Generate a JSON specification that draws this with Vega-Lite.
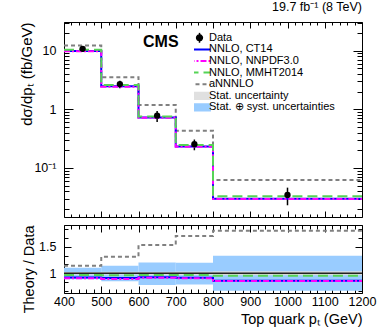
{
  "$schema": "https://vega.github.io/schema/vega-lite/v6.json",
  "padding": {"left": 18, "top": 0, "right": 5, "bottom": 5},
  "config": {
    "font": "Liberation Sans",
    "view": {"stroke": "black", "strokeWidth": 1},
    "axis": {"domain": false, "grid": false, "tickColor": "black", "tickWidth": 1, "labelColor": "black", "titleColor": "black", "labelFont": "Liberation Sans", "titleFont": "Liberation Sans", "labelFontSize": 12.5, "titleFontSize": 14.5, "titleFontWeight": "normal", "labelFlush": false, "labelOverlap": false},
    "title": {"font": "Liberation Sans", "color": "black"}
  },
  "datasets": {
    "meas": [
      {"pt": 450, "val": 10.8, "lo": 9.6, "hi": 11.9},
      {"pt": 550, "val": 2.7, "lo": 2.3, "hi": 3.08},
      {"pt": 650, "val": 0.78, "lo": 0.61, "hi": 0.94},
      {"pt": 750, "val": 0.254, "lo": 0.2, "hi": 0.305},
      {"pt": 1000, "val": 0.0345, "lo": 0.023, "hi": 0.046}
    ],
    "theory": [
      {"series": "aNNNLO", "x": 400, "y": 12.3},
      {"series": "aNNNLO", "x": 500, "y": 3.54},
      {"series": "aNNNLO", "x": 600, "y": 1.19},
      {"series": "aNNNLO", "x": 700, "y": 0.432},
      {"series": "aNNNLO", "x": 800, "y": 0.062},
      {"series": "aNNNLO", "x": 1200, "y": 0.062},
      {"series": "NNLO, CT14", "x": 400, "y": 9.95},
      {"series": "NNLO, CT14", "x": 500, "y": 2.47},
      {"series": "NNLO, CT14", "x": 600, "y": 0.725},
      {"series": "NNLO, CT14", "x": 700, "y": 0.232},
      {"series": "NNLO, CT14", "x": 800, "y": 0.0297},
      {"series": "NNLO, CT14", "x": 1200, "y": 0.0297},
      {"series": "NNLO, NNPDF3.0", "x": 400, "y": 9.8},
      {"series": "NNLO, NNPDF3.0", "x": 500, "y": 2.42},
      {"series": "NNLO, NNPDF3.0", "x": 600, "y": 0.715},
      {"series": "NNLO, NNPDF3.0", "x": 700, "y": 0.23},
      {"series": "NNLO, NNPDF3.0", "x": 800, "y": 0.0295},
      {"series": "NNLO, NNPDF3.0", "x": 1200, "y": 0.0295},
      {"series": "NNLO, MMHT2014", "x": 400, "y": 10.45},
      {"series": "NNLO, MMHT2014", "x": 500, "y": 2.61},
      {"series": "NNLO, MMHT2014", "x": 600, "y": 0.755},
      {"series": "NNLO, MMHT2014", "x": 700, "y": 0.246},
      {"series": "NNLO, MMHT2014", "x": 800, "y": 0.0328},
      {"series": "NNLO, MMHT2014", "x": 1200, "y": 0.0328}
    ],
    "ratio": [
      {"series": "aNNNLO", "x": 400, "r": 1.14},
      {"series": "aNNNLO", "x": 500, "r": 1.31},
      {"series": "aNNNLO", "x": 600, "r": 1.53},
      {"series": "aNNNLO", "x": 700, "r": 1.7},
      {"series": "aNNNLO", "x": 800, "r": 1.8},
      {"series": "aNNNLO", "x": 1200, "r": 1.8},
      {"series": "NNLO, CT14", "x": 400, "r": 0.922},
      {"series": "NNLO, CT14", "x": 500, "r": 0.912},
      {"series": "NNLO, CT14", "x": 600, "r": 0.928},
      {"series": "NNLO, CT14", "x": 700, "r": 0.915},
      {"series": "NNLO, CT14", "x": 800, "r": 0.862},
      {"series": "NNLO, CT14", "x": 1200, "r": 0.862},
      {"series": "NNLO, NNPDF3.0", "x": 400, "r": 0.908},
      {"series": "NNLO, NNPDF3.0", "x": 500, "r": 0.895},
      {"series": "NNLO, NNPDF3.0", "x": 600, "r": 0.915},
      {"series": "NNLO, NNPDF3.0", "x": 700, "r": 0.905},
      {"series": "NNLO, NNPDF3.0", "x": 800, "r": 0.855},
      {"series": "NNLO, NNPDF3.0", "x": 1200, "r": 0.855},
      {"series": "NNLO, MMHT2014", "x": 400, "r": 0.966},
      {"series": "NNLO, MMHT2014", "x": 500, "r": 0.965},
      {"series": "NNLO, MMHT2014", "x": 600, "r": 0.968},
      {"series": "NNLO, MMHT2014", "x": 700, "r": 0.967},
      {"series": "NNLO, MMHT2014", "x": 800, "r": 0.952},
      {"series": "NNLO, MMHT2014", "x": 1200, "r": 0.952}
    ],
    "bands": [
      {"lo": 400, "hi": 500, "totlo": 0.89, "tothi": 1.105, "statlo": 0.975, "stathi": 1.025},
      {"lo": 500, "hi": 600, "totlo": 0.85, "tothi": 1.14, "statlo": 0.972, "stathi": 1.028},
      {"lo": 600, "hi": 700, "totlo": 0.78, "tothi": 1.205, "statlo": 0.97, "stathi": 1.03},
      {"lo": 700, "hi": 800, "totlo": 0.79, "tothi": 1.2, "statlo": 0.968, "stathi": 1.032},
      {"lo": 800, "hi": 1200, "totlo": 0.67, "tothi": 1.33, "statlo": 0.962, "stathi": 1.038}
    ]
  },
  "spacing": 4,
  "resolve": {
    "scale": {"x": "independent", "y": "independent", "color": "independent", "strokeDash": "independent"},
    "legend": {"color": "independent", "strokeDash": "independent"}
  },
  "vconcat": [
    {
      "width": 298,
      "height": 195,
      "title": {"text": "19.7 fb⁻¹ (8 TeV)", "anchor": "end", "frame": "group", "fontSize": 12.5, "fontWeight": "normal", "offset": 3.5},
      "resolve": {"axis": {"x": "independent", "y": "independent"}},
      "layer": [
        {
          "data": {"name": "meas"},
          "mark": {"type": "rule", "color": "black", "strokeWidth": 1.5},
          "encoding": {
            "x": {"field": "pt", "type": "quantitative", "scale": {"domain": [400, 1200], "nice": false, "zero": false},
              "axis": {"orient": "bottom", "labels": false, "title": null,
                "values": [400,420,440,460,480,500,520,540,560,580,600,620,640,660,680,700,720,740,760,780,800,820,840,860,880,900,920,940,960,980,1000,1020,1040,1060,1080,1100,1120,1140,1160,1180,1200],
                "tickSize": {"condition": {"test": "datum.value % 100 === 0", "value": -6}, "value": -3}}},
            "y": {"field": "lo", "type": "quantitative", "scale": {"type": "log", "domain": [0.0145, 31], "nice": false},
              "axis": {"orient": "left",
                "values": [0.02,0.03,0.04,0.05,0.06,0.07,0.08,0.09,0.1,0.2,0.3,0.4,0.5,0.6,0.7,0.8,0.9,1,2,3,4,5,6,7,8,9,10,20,30],
                "labelExpr": "datum.value === 10 ? '10' : datum.value === 1 ? '1' : datum.value === 0.1 ? '10⁻¹' : ''",
                "tickSize": {"condition": {"test": "datum.value === 10 || datum.value === 1 || datum.value === 0.1", "value": -9}, "value": -5},
                "labelPadding": 17,
                "title": "dσ/dpₜ (fb/GeV)", "titleAnchor": "end", "titleBaseline": "bottom", "titleX": -30, "titleFontSize": 15}},
            "y2": {"field": "hi"}
          }
        },
        {
          "data": {"name": "theory"},
          "mark": {"type": "line", "interpolate": "step-after", "strokeWidth": 2},
          "encoding": {
            "x": {"field": "x", "type": "quantitative", "scale": {"domain": [400, 1200], "nice": false, "zero": false},
              "axis": {"orient": "top", "labels": false, "title": null,
                "values": [400,420,440,460,480,500,520,540,560,580,600,620,640,660,680,700,720,740,760,780,800,820,840,860,880,900,920,940,960,980,1000,1020,1040,1060,1080,1100,1120,1140,1160,1180,1200],
                "tickSize": {"condition": {"test": "datum.value % 100 === 0", "value": -6}, "value": -3}}},
            "y": {"field": "y", "type": "quantitative", "scale": {"type": "log", "domain": [0.0145, 31], "nice": false},
              "axis": {"orient": "right", "labels": false, "title": null,
                "values": [0.02,0.03,0.04,0.05,0.06,0.07,0.08,0.09,0.1,0.2,0.3,0.4,0.5,0.6,0.7,0.8,0.9,1,2,3,4,5,6,7,8,9,10,20,30],
                "tickSize": {"condition": {"test": "datum.value === 10 || datum.value === 1 || datum.value === 0.1", "value": -9}, "value": -5}}},
            "color": {"field": "series", "type": "nominal",
              "scale": {"domain": ["Data", "NNLO, CT14", "NNLO, NNPDF3.0", "NNLO, MMHT2014", "aNNNLO", "Stat. uncertainty", "Stat. ⊕ syst. uncertainties"],
                        "range": ["#000000", "#0000ff", "#ff00ff", "#55d455", "#808080", "#e0e0e0", "#99ccff"]},
              "legend": {
                "orient": "none", "legendX": 130, "legendY": 10.5, "title": null,
                "labelFontSize": 11, "labelFont": "Liberation Sans", "labelColor": "black",
                "symbolSize": 484, "clipHeight": 10.6, "rowPadding": -0.4, "labelOffset": 4, "symbolStrokeWidth": 2,
                "encode": {"symbols": {"update": {
                  "shape": {"signal": "datum.value === 'Data' ? 'M0,-0.45L0,0.45M0.26,0A0.26,0.26 0 1,1 -0.26,0A0.26,0.26 0 1,1 0.26,0' : (indexof(datum.value, 'Stat') === 0 ? 'M-0.95,-0.28L0.95,-0.28L0.95,0.28L-0.95,0.28Z' : 'M-1,0L1,0')"},
                  "fill": {"signal": "datum.value === 'Data' ? '#000000' : datum.value === 'Stat. uncertainty' ? '#e0e0e0' : datum.value === 'Stat. ⊕ syst. uncertainties' ? '#99ccff' : 'transparent'"},
                  "stroke": {"signal": "datum.value === 'Data' ? '#000000' : datum.value === 'NNLO, CT14' ? '#0000ff' : datum.value === 'NNLO, NNPDF3.0' ? '#ff00ff' : datum.value === 'NNLO, MMHT2014' ? '#55d455' : datum.value === 'aNNNLO' ? '#808080' : 'transparent'"},
                  "strokeDash": {"signal": "datum.value === 'NNLO, NNPDF3.0' ? [6,2,2,2] : datum.value === 'NNLO, MMHT2014' ? [10,5] : datum.value === 'aNNNLO' ? [4,3] : [1,0]"},
                  "strokeWidth": {"signal": "datum.value === 'Data' ? 1.5 : 2"},
                  "opacity": {"value": 1}
                }}}
              }},
            "strokeDash": {"field": "series", "type": "nominal",
              "scale": {"domain": ["aNNNLO", "NNLO, CT14", "NNLO, NNPDF3.0", "NNLO, MMHT2014"], "range": [[4, 3], [1, 0], [6, 2, 2, 2], [10, 5]]},
              "legend": null}
          }
        },
        {
          "data": {"name": "meas"},
          "mark": {"type": "point", "filled": true, "color": "black", "size": 40, "opacity": 1},
          "encoding": {
            "x": {"field": "pt", "type": "quantitative", "scale": {"domain": [400, 1200], "nice": false, "zero": false}, "axis": null},
            "y": {"field": "val", "type": "quantitative", "scale": {"type": "log", "domain": [0.0145, 31], "nice": false}, "axis": null}
          }
        },
        {
          "data": {"values": [{}]},
          "mark": {"type": "text", "text": "CMS", "fontWeight": "bold", "fontSize": 16, "font": "Liberation Sans", "color": "black"},
          "encoding": {
            "x": {"datum": 660, "type": "quantitative", "scale": {"domain": [400, 1200], "nice": false, "zero": false}, "axis": null},
            "y": {"datum": 14.3, "type": "quantitative", "scale": {"type": "log", "domain": [0.0145, 31], "nice": false}, "axis": null}
          }
        }
      ]
    },
    {
      "width": 298,
      "height": 68,
      "resolve": {"axis": {"x": "independent", "y": "independent"}},
      "layer": [
        {
          "data": {"name": "bands"},
          "mark": {"type": "rect", "color": "#99ccff", "opacity": 1},
          "encoding": {
            "x": {"field": "lo", "type": "quantitative", "scale": {"domain": [400, 1200], "nice": false, "zero": false},
              "axis": {"orient": "bottom",
                "values": [400,420,440,460,480,500,520,540,560,580,600,620,640,660,680,700,720,740,760,780,800,820,840,860,880,900,920,940,960,980,1000,1020,1040,1060,1080,1100,1120,1140,1160,1180,1200],
                "labelExpr": "datum.value % 100 === 0 ? '' + datum.value : ''",
                "tickSize": {"condition": {"test": "datum.value % 100 === 0", "value": -7}, "value": -4},
                "labelPadding": 9,
                "title": "Top quark pₜ (GeV)", "titleAnchor": "end", "titleFontSize": 14.5, "titlePadding": 2}},
            "x2": {"field": "hi"},
            "y": {"field": "totlo", "type": "quantitative", "scale": {"domain": [0.63, 1.908], "nice": false, "zero": false},
              "axis": {"orient": "left",
                "values": [0.6667, 0.8333, 1, 1.1667, 1.3333, 1.5, 1.6667, 1.8333],
                "labelExpr": "datum.value === 1 ? '1' : datum.value === 1.5 ? '1.5' : ''",
                "tickSize": {"condition": {"test": "datum.value === 1 || datum.value === 1.5", "value": -7}, "value": -4},
                "labelPadding": 15,
                "title": "Theory / Data", "titleAnchor": "end", "titleBaseline": "bottom", "titleX": -28, "titleFontSize": 14.5}},
            "y2": {"field": "tothi"}
          }
        },
        {
          "data": {"name": "bands"},
          "mark": {"type": "rect", "color": "#dcdcdc", "opacity": 1},
          "encoding": {
            "x": {"field": "lo", "type": "quantitative", "scale": {"domain": [400, 1200], "nice": false, "zero": false}, "axis": null},
            "x2": {"field": "hi"},
            "y": {"field": "statlo", "type": "quantitative", "scale": {"domain": [0.63, 1.908], "nice": false, "zero": false}, "axis": null},
            "y2": {"field": "stathi"}
          }
        },
        {
          "data": {"values": [{}]},
          "mark": {"type": "rule", "color": "#222222", "strokeWidth": 1.5},
          "encoding": {
            "y": {"datum": 1, "type": "quantitative", "scale": {"domain": [0.63, 1.908], "nice": false, "zero": false}, "axis": null}
          }
        },
        {
          "data": {"name": "ratio"},
          "mark": {"type": "line", "interpolate": "step-after", "strokeWidth": 2},
          "encoding": {
            "x": {"field": "x", "type": "quantitative", "scale": {"domain": [400, 1200], "nice": false, "zero": false},
              "axis": {"orient": "top", "labels": false, "title": null,
                "values": [400,420,440,460,480,500,520,540,560,580,600,620,640,660,680,700,720,740,760,780,800,820,840,860,880,900,920,940,960,980,1000,1020,1040,1060,1080,1100,1120,1140,1160,1180,1200],
                "tickSize": {"condition": {"test": "datum.value % 100 === 0", "value": -7}, "value": -4}}},
            "y": {"field": "r", "type": "quantitative", "scale": {"domain": [0.63, 1.908], "nice": false, "zero": false},
              "axis": {"orient": "right", "labels": false, "title": null,
                "values": [0.6667, 0.8333, 1, 1.1667, 1.3333, 1.5, 1.6667, 1.8333],
                "tickSize": {"condition": {"test": "datum.value === 1 || datum.value === 1.5", "value": -7}, "value": -4}}},
            "color": {"field": "series", "type": "nominal",
              "scale": {"domain": ["NNLO, CT14", "NNLO, NNPDF3.0", "NNLO, MMHT2014", "aNNNLO"], "range": ["#0000ff", "#ff00ff", "#55d455", "#808080"]},
              "legend": null},
            "strokeDash": {"field": "series", "type": "nominal",
              "scale": {"domain": ["aNNNLO", "NNLO, CT14", "NNLO, NNPDF3.0", "NNLO, MMHT2014"], "range": [[4, 3], [1, 0], [6, 2, 2, 2], [10, 5]]},
              "legend": null}
          }
        }
      ]
    }
  ]
}
